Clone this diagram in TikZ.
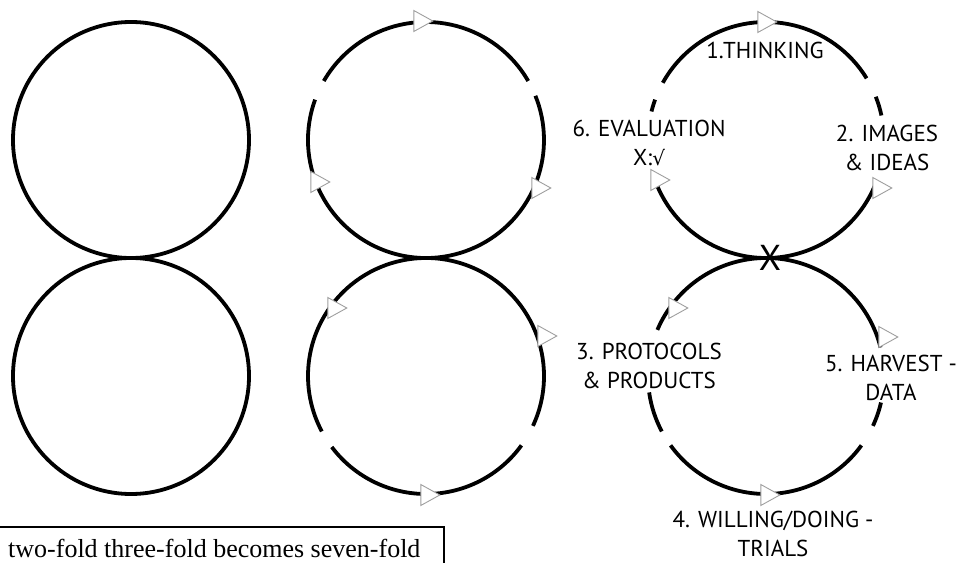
\documentclass[tikz,border=0pt]{standalone}
\usepackage{fontspec}
\setmainfont{Liberation Serif}
\newfontfamily\labfont{PT Sans}
\newfontfamily\symfont{DejaVu Sans}
\usetikzlibrary{shapes.geometric}
\tikzset{
  ring/.style={line width=3.8pt, black},
  tri/.style={isosceles triangle, isosceles triangle stretches, shape border rotate=0,
    minimum width=21pt, minimum height=19pt, inner sep=0pt, draw=gray!75, fill=white, line width=0.9pt},
  lab/.style={font=\labfont\fontsize{23}{29}\selectfont, align=center, inner sep=0pt},
}
\begin{document}
\begin{tikzpicture}[x=1pt,y=1pt]
\useasboundingbox (0,0) rectangle (962,563);
% centres
\coordinate (Lt) at (131,423);
\coordinate (Lb) at (131,187);
\coordinate (Mt) at (426,423);
\coordinate (Mb) at (426,187);
\coordinate (Rt) at (766,423);
\coordinate (Rb) at (766,187);
% left: full circles
\draw[ring] (Lt) circle[radius=118];
\draw[ring] (Lb) circle[radius=118];
% middle top
\draw[ring] (Mt) ++(30:118) arc[start angle=30, end angle=150, radius=118];
\draw[ring] (Mt) ++(160:118) arc[start angle=160, end angle=382, radius=118];
% middle bottom
\draw[ring] (Mb) ++(-25:118) arc[start angle=-25, end angle=208, radius=118];
\draw[ring] (Mb) ++(217:118) arc[start angle=217, end angle=324, radius=118];
% right top
\draw[ring] (Rt) ++(31.5:118) arc[start angle=31.5, end angle=151, radius=118];
\draw[ring] (Rt) ++(160:118) arc[start angle=160, end angle=166, radius=118];
\draw[ring] (Rt) ++(199:118) arc[start angle=199, end angle=337, radius=118];
\draw[ring] (Rt) ++(12:118) arc[start angle=12, end angle=21.5, radius=118];
% right bottom
\draw[ring] (Rb) ++(14:118) arc[start angle=14, end angle=157, radius=118];
\draw[ring] (Rb) ++(188:118) arc[start angle=188, end angle=208, radius=118];
\draw[ring] (Rb) ++(216:118) arc[start angle=216, end angle=324, radius=118];
\draw[ring] (Rb) ++(335:118) arc[start angle=335, end angle=347, radius=118];
% triangles
\node[tri] (m1) at (420,542) {};
\node[tri] (m2) at (538,375) {};
\node[tri] (m3) at (317,381) {};
\node[tri] (m4) at (334,255) {};
\node[tri] (m5) at (544,227) {};
\node[tri] (m6) at (427,68) {};
\node[tri] (r1) at (764,541) {};
\node[tri] (r2) at (657,383) {};
\node[tri] (r3) at (879,375) {};
\node[tri] (r4) at (675,255) {};
\node[tri] (r5) at (885,226) {};
\node[tri] (r6) at (767,68) {};
% labels
\node[lab] (think) at (765,513) {1.THINKING};
\node[lab] (eval) at (649,420) {6. EVALUATION\\X:{\symfont\fontsize{20}{29}\selectfont √}};
\node[lab] (imgs) at (887,415) {2. IMAGES\\\& IDEAS};
\node[lab] (prot) at (649,197) {3. PROTOCOLS\\\& PRODUCTS};
\node[lab] (harv) at (891,185) {5. HARVEST -\\DATA};
\node[lab] (will) at (773,29) {4. WILLING/DOING -\\TRIALS};
\node[font=\labfont\fontsize{36}{36}\selectfont, inner sep=0pt] (cross) at (770,305) {X};
% caption box
\coordinate (b1) at (0,36);
\coordinate (b2) at (444,36);
\coordinate (b3) at (444,0);
\draw[line width=1.6pt] (b1) -- (b2) -- (b3);
\node[anchor=base west, inner sep=0pt, font=\fontsize{26}{30}\selectfont] (cap) at (8,6) {two-fold three-fold becomes seven-fold};
\end{tikzpicture}
\end{document}
